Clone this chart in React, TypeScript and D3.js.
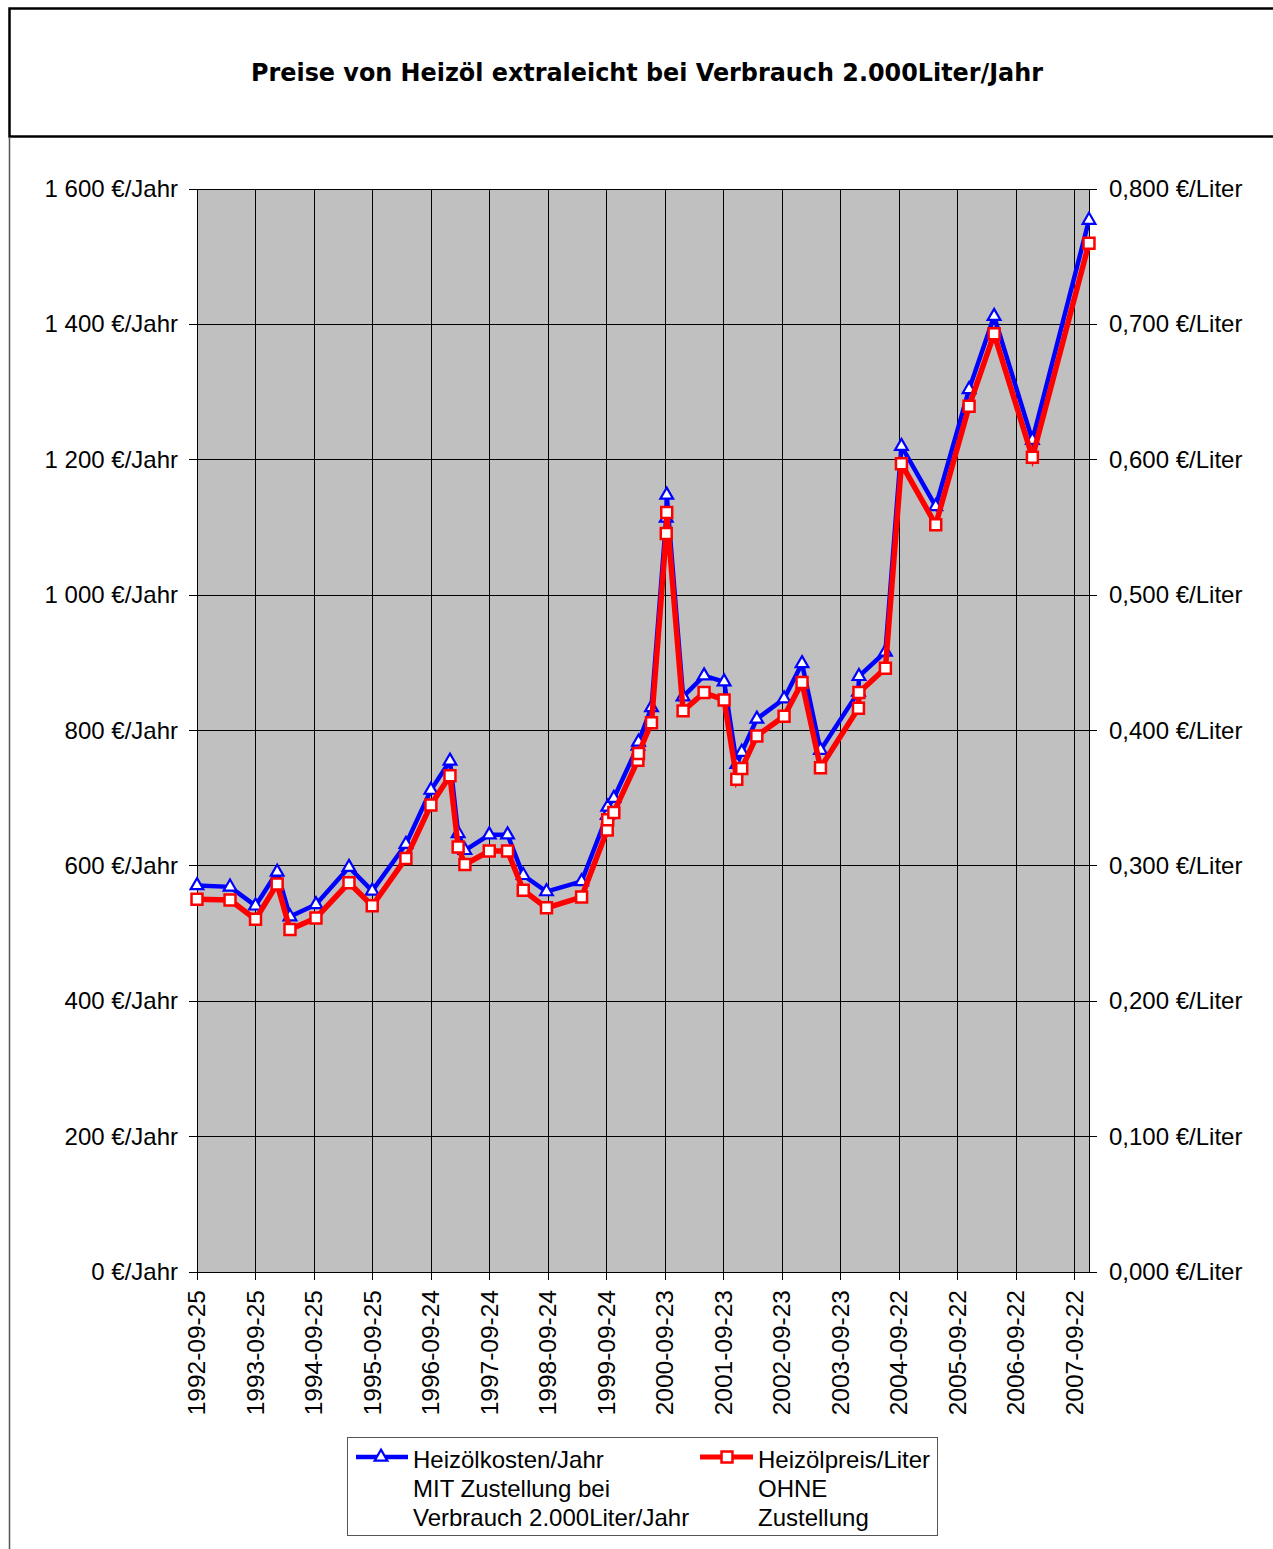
import React, { useEffect, useRef } from "react";
import * as d3 from "d3";

// Stichtage der Preisangaben
const dates = [
  "1992-09-25", "1993-04-19", "1993-09-25", "1994-02-07", "1994-04-28", "1994-10-07",
  "1995-05-01", "1995-09-23", "1996-04-20", "1996-09-23", "1997-01-20", "1997-03-12",
  "1997-04-23", "1997-09-22", "1998-01-14", "1998-04-22", "1998-09-14", "1999-04-21",
  "1999-09-28", "1999-10-01", "1999-11-08", "2000-04-06", "2000-04-10", "2000-06-30",
  "2000-09-30", "2000-10-03", "2001-01-13", "2001-05-24", "2001-09-26", "2001-12-14",
  "2002-01-14", "2002-04-18", "2002-10-05", "2003-01-25", "2003-05-20", "2004-01-12",
  "2004-01-15", "2004-06-28", "2004-10-06", "2005-05-08", "2005-12-02", "2006-05-07",
  "2007-01-01", "2007-12-20",
];

// Heizölkosten/Jahr MIT Zustellung (€/Jahr)
const kostenJahr = [
  571, 569, 541, 591, 525, 543,
  598, 563, 632, 712, 755, 648,
  623, 646, 646, 586, 562, 577,
  675, 687, 700, 777, 783, 834,
  1114, 1148, 850, 881, 872, 750,
  768, 817, 847, 899, 771, 857,
  880, 916, 1220, 1131, 1304, 1412,
  1229, 1554,
];

// Heizölpreis/Liter OHNE Zustellung (€/Liter)
const preisLiter = [
  0.2753, 0.2748, 0.2605, 0.2866, 0.253, 0.2615,
  0.2875, 0.2705, 0.3055, 0.345, 0.3665, 0.314,
  0.301, 0.311, 0.311, 0.282, 0.269, 0.277,
  0.3265, 0.334, 0.3395, 0.378, 0.383, 0.4058,
  0.5455, 0.561, 0.4145, 0.428, 0.4225, 0.364,
  0.372, 0.396, 0.4105, 0.4355, 0.3725, 0.4165,
  0.428, 0.446, 0.597, 0.552, 0.6395, 0.693,
  0.6018, 0.76,
];

const tickDates = [
  "1992-09-25", "1993-09-25", "1994-09-25", "1995-09-25", "1996-09-24", "1997-09-24",
  "1998-09-24", "1999-09-24", "2000-09-23", "2001-09-23", "2002-09-23", "2003-09-23",
  "2004-09-22", "2005-09-22", "2006-09-22", "2007-09-22",
];
const leftTicks = [0, 200, 400, 600, 800, 1000, 1200, 1400, 1600];
const rightTicks = [0, 0.1, 0.2, 0.3, 0.4, 0.5, 0.6, 0.7, 0.8];

const titel = "Preise von Heizöl extraleicht bei Verbrauch 2.000Liter/Jahr";
const legendBlau = ["Heizölkosten/Jahr", "MIT Zustellung bei", "Verbrauch 2.000Liter/Jahr"];
const legendRot = ["Heizölpreis/Liter", "OHNE", "Zustellung"];

export default function App() {
  const ref = useRef<SVGSVGElement>(null);

  useEffect(() => {
    const font = "'Liberation Sans', Arial, sans-serif";
    const parse = d3.timeParse("%Y-%m-%d");
    const fmtDate = d3.timeFormat("%Y-%m-%d");
    const svg = d3.select(ref.current);
    svg.selectAll("*").remove();

    const left = 197, right = 1089, top = 189, bottom = 1272;

    const x = d3
      .scaleTime()
      .domain([parse(dates[0])!, parse(dates[dates.length - 1])!])
      .range([left, right]);
    const yL = d3.scaleLinear().domain([0, 1600]).range([bottom, top]);
    const yR = d3.scaleLinear().domain([0, 0.8]).range([bottom, top]);

    // Titel-Rahmen
    svg.append("rect").attr("x", 9.5).attr("y", 8.5).attr("width", 1300).attr("height", 128)
      .attr("fill", "#fff").attr("stroke", "#000").attr("stroke-width", 2.5);
    svg.append("line").attr("x1", 9.5).attr("x2", 9.5).attr("y1", 137).attr("y2", 1549)
      .attr("stroke", "#555").attr("stroke-width", 1.5);
    svg.append("text").attr("x", 647).attr("y", 81).attr("text-anchor", "middle")
      .attr("font-family", "'DejaVu Sans', Verdana, sans-serif").attr("font-weight", "bold")
      .attr("font-size", 24).attr("textLength", 792).attr("lengthAdjust", "spacingAndGlyphs")
      .text(titel);

    // Plotfläche
    svg.append("rect").attr("x", left).attr("y", top).attr("width", right - left)
      .attr("height", bottom - top).attr("fill", "#c0c0c0");

    const grid = svg.append("g").attr("stroke", "#000").attr("stroke-width", 1)
      .attr("shape-rendering", "crispEdges");
    leftTicks.forEach(v => {
      grid.append("line").attr("x1", left - 8).attr("x2", right + 8)
        .attr("y1", yL(v)).attr("y2", yL(v));
    });
    tickDates.forEach(d => {
      const xx = x(parse(d)!);
      grid.append("line").attr("x1", xx).attr("x2", xx).attr("y1", top).attr("y2", bottom + 8);
    });
    grid.append("line").attr("x1", left).attr("x2", left).attr("y1", top).attr("y2", bottom);
    grid.append("line").attr("x1", right).attr("x2", right).attr("y1", top).attr("y2", bottom);

    // Achsenbeschriftung
    const fmtL = (v: number) => d3.format(",")(v).replace(/,/g, " ") + " €/Jahr";
    const fmtR = (v: number) => d3.format(".3f")(v).replace(".", ",") + " €/Liter";
    leftTicks.forEach(v => {
      svg.append("text").attr("x", 178).attr("y", yL(v) + 8).attr("text-anchor", "end")
        .attr("font-family", font).attr("font-size", 24).text(fmtL(v));
    });
    rightTicks.forEach(v => {
      svg.append("text").attr("x", 1109).attr("y", yR(v) + 8)
        .attr("font-family", font).attr("font-size", 24).text(fmtR(v));
    });
    tickDates.forEach(d => {
      const xx = x(parse(d)!);
      svg.append("text").attr("transform", `translate(${xx + 8},1290) rotate(-90)`)
        .attr("text-anchor", "end").attr("font-family", font).attr("font-size", 24.5)
        .text(fmtDate(parse(d)!));
    });

    const pts = dates.map((d, i) => ({ t: parse(d)!, k: kostenJahr[i], p: preisLiter[i] }));

    const tri = d3.symbol().type(d3.symbolTriangle).size(70);
    const sq = d3.symbol().type(d3.symbolSquare).size(120);

    // Blau: Kosten/Jahr
    const lineK = d3.line<any>().x(d => x(d.t)).y(d => yL(d.k));
    svg.append("path").datum(pts).attr("d", lineK).attr("fill", "none")
      .attr("stroke", "#0000ff").attr("stroke-width", 4.5).attr("stroke-linejoin", "miter");
    svg.selectAll(".tri").data(pts).enter().append("path").attr("class", "tri")
      .attr("d", tri).attr("transform", d => `translate(${x(d.t)},${yL(d.k)})`)
      .attr("fill", "#fff").attr("stroke", "#0000ff").attr("stroke-width", 2.2);

    // Rot: Preis/Liter
    const lineP = d3.line<any>().x(d => x(d.t)).y(d => yR(d.p));
    svg.append("path").datum(pts).attr("d", lineP).attr("fill", "none")
      .attr("stroke", "#ff0000").attr("stroke-width", 5.5).attr("stroke-linejoin", "miter");
    svg.selectAll(".sq").data(pts).enter().append("path").attr("class", "sq")
      .attr("d", sq).attr("transform", d => `translate(${x(d.t)},${yR(d.p)})`)
      .attr("fill", "#fff").attr("stroke", "#ff0000").attr("stroke-width", 2.5);

    // Legende
    const lg = svg.append("g");
    lg.append("rect").attr("x", 347.5).attr("y", 1437.5).attr("width", 590).attr("height", 98)
      .attr("fill", "#fff").attr("stroke", "#555").attr("stroke-width", 1);
    lg.append("line").attr("x1", 356).attr("x2", 408).attr("y1", 1457).attr("y2", 1457)
      .attr("stroke", "#0000ff").attr("stroke-width", 4.5);
    lg.append("path").attr("d", tri).attr("transform", "translate(381,1457)")
      .attr("fill", "#fff").attr("stroke", "#0000ff").attr("stroke-width", 2.2);
    lg.append("line").attr("x1", 700).attr("x2", 753).attr("y1", 1457).attr("y2", 1457)
      .attr("stroke", "#ff0000").attr("stroke-width", 5);
    lg.append("path").attr("d", sq).attr("transform", "translate(727,1457)")
      .attr("fill", "#fff").attr("stroke", "#ff0000").attr("stroke-width", 2.5);
    legendBlau.forEach((s, i) => {
      lg.append("text").attr("x", 413).attr("y", 1468 + i * 29).attr("font-family", font)
        .attr("font-size", 24).text(s);
    });
    legendRot.forEach((s, i) => {
      lg.append("text").attr("x", 758).attr("y", 1468 + i * 29).attr("font-family", font)
        .attr("font-size", 24).text(s);
    });
  }, []);

  return (
    <svg
      ref={ref}
      width={1273}
      height={1549}
      style={{ position: "absolute", left: 0, top: 0, background: "#fff" }}
    />
  );
}
